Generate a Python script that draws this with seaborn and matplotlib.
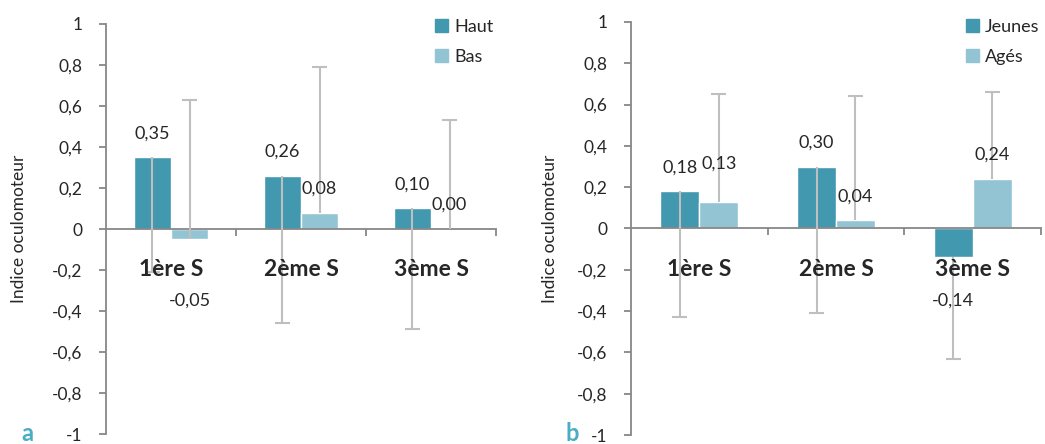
import numpy as np
import matplotlib
matplotlib.use("Agg")
import matplotlib.pyplot as plt
import seaborn as sns
import pandas as pd
from matplotlib.patches import Patch

#%% data
categories = ["1ère S", "2ème S", "3ème S"]

# panel a
groups_a = ["Haut", "Bas"]
haut = [0.35, 0.26, 0.10]
bas = [-0.05, 0.08, 0.00]
haut_err_low = [0.56, 0.72, 0.59]   # only the minus bar is shown
bas_err_high = [0.68, 0.71, 0.53]   # only the plus bar is shown

# panel b
groups_b = ["Jeunes", "Agés"]
jeunes = [0.18, 0.30, -0.14]
ages = [0.13, 0.04, 0.24]
jeunes_err_low = [0.61, 0.71, 0.49]
ages_err_high = [0.52, 0.60, 0.42]

yticks = [-1, -0.8, -0.6, -0.4, -0.2, 0, 0.2, 0.4, 0.6, 0.8, 1]

#%% style
sns.set_style("white")
plt.rcParams['font.family'] = ['Lato', 'DejaVu Sans']
dark = "#4298AF"
light = "#93C4D4"
axis_grey = "#878787"
err_grey = "#BFBFBF"


def fmt(v):
    return ("%.2f" % v).replace(".", ",")


def fmt_tick(v):
    if abs(v) < 1e-9:
        return "0"
    return ("%g" % v).replace(".", ",")


def panel(ax, groups, v1, v2, err1, err2, nudge=None):
    df = pd.DataFrame({
        "cat": categories * 2,
        "grp": [groups[0]] * 3 + [groups[1]] * 3,
        "val": list(v1) + list(v2),
    })
    sns.barplot(data=df, x="cat", y="val", hue="grp", ax=ax,
                palette=[dark, light], width=0.57, gap=0,
                saturation=1, errorbar=None, legend=False, zorder=2)

    # one-sided error bars: minus on 1st series, plus on 2nd
    for k, (vals, errs, sign) in enumerate([(v1, err1, -1), (v2, err2, 1)]):
        bars = ax.containers[k]
        for i, (b, v, e) in enumerate(zip(bars, vals, errs)):
            xc = b.get_x() + b.get_width() / 2
            end = v + sign * e
            ax.vlines(xc, v, end, color=err_grey, lw=1.5, zorder=3)
            ax.hlines(end, xc - 0.055, xc + 0.055, color=err_grey, lw=1.5, zorder=3)
            # value labels
            if v >= 0:
                dy = 24
                if nudge and (k, i) in nudge:
                    dy += nudge[(k, i)]
                ax.annotate(fmt(v), (xc, v), xytext=(0, dy * 72 / 100),
                            textcoords="offset points", ha="center", va="center",
                            fontsize=13, zorder=4)
            else:
                ax.text(xc, -0.35, fmt(v), ha="center", va="center",
                        fontsize=13, zorder=4)

    # category labels under the zero line
    for i, c in enumerate(categories):
        ax.text(i, -0.2, c, ha="center", va="center", fontsize=16.5,
                fontweight="bold", zorder=4)

    ax.set_ylim(-1, 1)
    ax.set_xlim(-0.5, 2.5)
    ax.set_yticks(yticks)
    ax.set_yticklabels([fmt_tick(t) for t in yticks], fontsize=12.5)
    ax.set_xticks([0.5, 1.5, 2.5])
    ax.set_xticklabels([])
    ax.set_xlabel("")
    ax.set_ylabel("Indice oculomoteur", fontsize=12.5)
    for s in ["top", "right"]:
        ax.spines[s].set_visible(False)
    ax.spines["bottom"].set_position(("data", 0))
    ax.spines["bottom"].set_zorder(2.5)
    for s in ["left", "bottom"]:
        ax.spines[s].set_color(axis_grey)
        ax.spines[s].set_linewidth(1.3)
    ax.tick_params(axis="y", direction="out", length=5, width=1.3,
                   color=axis_grey, pad=12, left=True)
    ax.tick_params(axis="x", direction="out", length=5, width=1.3,
                   color=axis_grey, bottom=True)


fig = plt.figure(figsize=(10.45, 4.44), dpi=100)
ax1 = fig.add_axes([106 / 1045, 1 - 434 / 444, 390 / 1045, 410 / 444])
ax2 = fig.add_axes([631 / 1045, 1 - 435 / 444, 410 / 1045, 413 / 444])

panel(ax1, groups_a, haut, bas, haut_err_low, bas_err_high)
panel(ax2, groups_b, jeunes, ages, jeunes_err_low, ages_err_high, nudge={(1, 0): 14})

ax1.yaxis.set_label_coords(-0.203, 0.5)
ax2.yaxis.set_label_coords(-0.178, 0.5)

# legends
for ax, groups, x0 in [(ax1, groups_a, 435), (ax2, groups_b, 966)]:
    handles = [Patch(color=dark), Patch(color=light)]
    ax.legend(handles, groups, loc="upper left",
              bbox_to_anchor=(x0 / 1045, 1 - 19 / 444), bbox_transform=fig.transFigure,
              frameon=False, fontsize=13, handlelength=0.7, handleheight=0.7,
              handletextpad=0.35, labelspacing=0.75, borderpad=0, borderaxespad=0)

fig.text(27 / 1045, 0.006, "a", color="#4BACC6", fontsize=17, fontweight="bold",
         ha="center", va="baseline")
fig.text(572 / 1045, 0.006, "b", color="#4BACC6", fontsize=17, fontweight="bold",
         ha="center", va="baseline")

plt.savefig("out.png", dpi=100)
